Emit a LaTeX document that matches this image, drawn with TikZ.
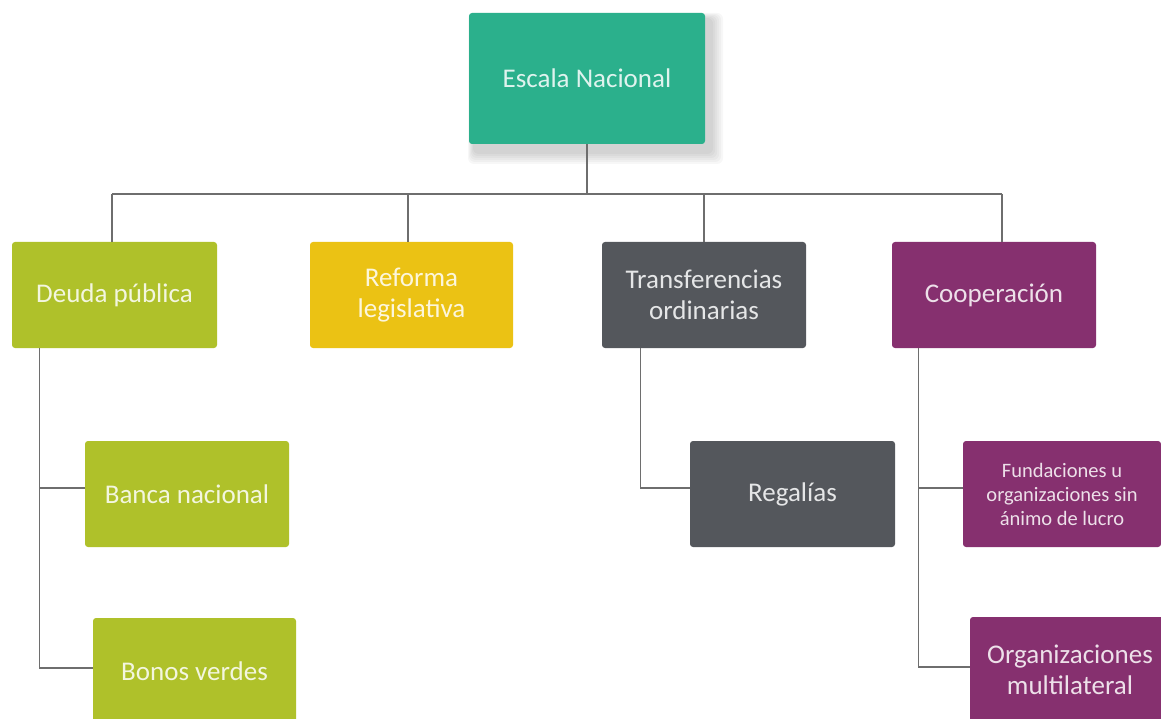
\documentclass[tikz,border=0pt]{standalone}
\usepackage{fontspec}
\setmainfont{Carlito}
\usetikzlibrary{positioning}
\definecolor{teal}{HTML}{2BB08C}
\definecolor{olive}{HTML}{AFC12A}
\definecolor{gold}{HTML}{EBC214}
\definecolor{slate}{HTML}{54575C}
\definecolor{plum}{HTML}{86306F}
\definecolor{wire}{HTML}{6E6E6E}
\tikzset{box/.style={rounded corners=3pt, minimum width=204pt, minimum height=106pt, align=center, inner sep=2pt, font=\fontsize{27}{31}\selectfont}, tone/.style={fill=#1, text=white!85!#1}, sml/.style={font=\fontsize{20.5}{24}\selectfont}, link/.style={draw=wire, line width=1.2pt}}
\begin{document}
\begin{tikzpicture}[x=1pt,y=-1pt]
\useasboundingbox (0,0) rectangle (1161,719); \clip (0,0) rectangle (1161,719);
\foreach \s in {2,4,...,12}{\fill[black,opacity=.03,rounded corners=6pt] (474-\s/2,19-\s/2) rectangle (711+\s,152+\s);}
\node[box,tone=teal,minimum width=236pt,minimum height=131pt] (top) at (587,78.5) {Escala Nacional};
\node[box,tone=olive,minimum width=205pt] (deuda) at (114.5,295) {Deuda pública};
\node[box,tone=gold,minimum width=203pt] (reforma) at (411.5,295) {Reforma\\legislativa};
\node[box,tone=slate] (transf) at (704,295) {Transferencias\\ordinarias};
\node[box,tone=plum] (coop) at (994,295) {Cooperación};
\node[box,tone=olive] (banca) at (187,494) {Banca nacional};
\node[box,tone=olive,minimum width=203pt] (bonos) at (194.5,671) {Bonos verdes};
\node[box,tone=slate,minimum width=205pt] (regalias) at (792.5,494) {Regalías};
\node[box,tone=plum,sml,minimum width=198pt] (fund) at (1062,494) {Fundaciones u\\organizaciones sin\\ánimo de lucro};
\node[box,tone=plum,minimum width=200pt] (multi) at (1070,670) {Organizaciones\\multilateral};
\coordinate (bus) at (0,194);
\draw[link] (top.south) -- (top.south |- bus);
\draw[link] ([xshift=-2.5pt]deuda.north |- bus) -- ([xshift=8pt]coop.north |- bus);
\draw[link] ([xshift=-2.5pt]deuda.north |- bus) -- ([xshift=-2.5pt]deuda.north); \draw[link] ([xshift=-3.5pt]reforma.north |- bus) -- ([xshift=-3.5pt]reforma.north);
\draw[link] (transf.north |- bus) -- (transf.north); \draw[link] ([xshift=8pt]coop.north |- bus) -- ([xshift=8pt]coop.north);
\draw[link] ([xshift=28pt]deuda.south west) |- ([yshift=6pt]banca.west); \draw[link] ([xshift=28pt]deuda.south west) |- ([yshift=3pt]bonos.west);
\draw[link] ([xshift=39pt]transf.south west) |- ([yshift=6pt]regalias.west);
\draw[link] ([xshift=27pt]coop.south west) |- ([yshift=6pt]fund.west); \draw[link] ([xshift=27pt]coop.south west) |- ([yshift=3pt]multi.west);
\end{tikzpicture}
\end{document}
